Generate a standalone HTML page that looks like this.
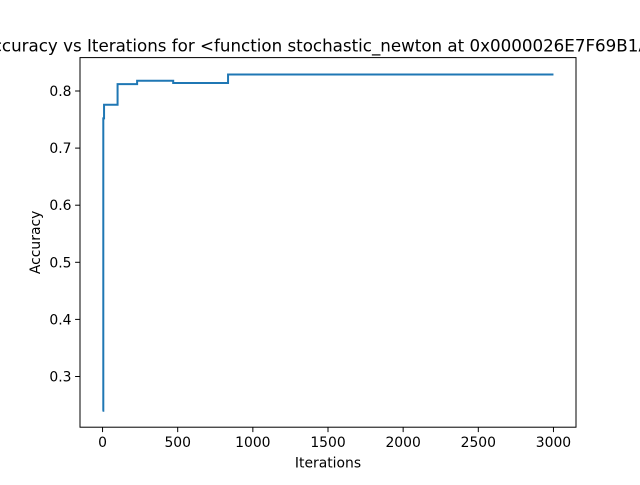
<!DOCTYPE html>
<html><head><meta charset="utf-8"><style>
body{margin:0;background:#fff;}
svg text{font-family:"DejaVu Sans","Liberation Sans",sans-serif;fill:#000;}
</style></head><body>
<svg id="chart" width="640" height="480" xmlns="http://www.w3.org/2000/svg">
<rect width="640" height="480" fill="#fff"/>
<text x="328" y="51.5" font-size="16.7" text-anchor="middle">Accuracy vs Iterations for &lt;function stochastic_newton at 0x0000026E7F69B1A0&gt;</text>
<g id="xticks"></g>
<g id="yticks"></g>
<text x="328" y="467.5" font-size="13.9" text-anchor="middle">Iterations</text>
<text transform="translate(40,242.4) rotate(-90)" font-size="13.9" text-anchor="middle">Accuracy</text>
<path id="line" fill="none" stroke="#1f77b4" stroke-width="2" stroke-linejoin="miter"/>
<rect x="80" y="57.6" width="496" height="369.6" fill="none" stroke="#000" stroke-width="1"/>
</svg>
<script>
const iterations=[0,5,10,100,230,470,835,3000];
const accuracy=[0.24,0.752,0.776,0.812,0.818,0.814,0.829,0.829];
const xTickValues=[0,500,1000,1500,2000,2500,3000];
const yTickValues=[0.3,0.4,0.5,0.6,0.7,0.8];
const L=80,R=576,T=57.6,B=427.2;
const xmin=-150,xmax=3150,ymin=0.2112,ymax=0.8585;
const X=v=>L+(v-xmin)/(xmax-xmin)*(R-L);
const Y=v=>B-(v-ymin)/(ymax-ymin)*(B-T);
let d='M'+X(iterations[0])+','+Y(accuracy[0]);
for(let i=1;i<iterations.length;i++){d+=' L'+X(iterations[i])+','+Y(accuracy[i-1])+' L'+X(iterations[i])+','+Y(accuracy[i]);}
document.getElementById('line').setAttribute('d',d);
const ns='http://www.w3.org/2000/svg';
const xg=document.getElementById('xticks'),yg=document.getElementById('yticks');
xTickValues.forEach(v=>{
const l=document.createElementNS(ns,'line');


l.setAttribute('x1',X(v));l.setAttribute('x2',X(v));l.setAttribute('y1',B);l.setAttribute('y2',B+4.9);l.setAttribute('stroke','#000');l.setAttribute('stroke-width','1');xg.appendChild(l);
const t=document.createElementNS(ns,'text');


t.setAttribute('x',X(v));t.setAttribute('y',B+20);t.setAttribute('font-size','13.9');t.setAttribute('text-anchor','middle');t.textContent=v;xg.appendChild(t);
});
yTickValues.forEach(v=>{
const l=document.createElementNS(ns,'line');


l.setAttribute('x1',L-4.9);l.setAttribute('x2',L);l.setAttribute('y1',Y(v));l.setAttribute('y2',Y(v));l.setAttribute('stroke','#000');l.setAttribute('stroke-width','1');yg.appendChild(l);
const t=document.createElementNS(ns,'text');


t.setAttribute('x',L-8.5);t.setAttribute('y',Y(v)+5);t.setAttribute('font-size','13.9');t.setAttribute('text-anchor','end');t.textContent=v.toFixed(1);yg.appendChild(t);
});
</script>
</body></html>
